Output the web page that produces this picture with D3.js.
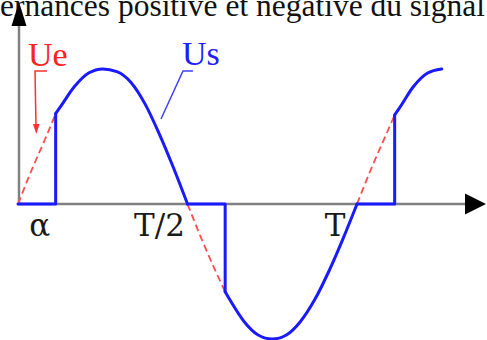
<!DOCTYPE html>
<html><head><meta charset="utf-8">
<script src="https://cdn.jsdelivr.net/npm/d3@7"></script>
<style>html,body{margin:0;padding:0;background:#fff;overflow:hidden}</style>
</head><body>
<svg id="chart" width="487" height="340"></svg>
<script>
// Input voltage Ue sampled over 1.25 periods (phase in degrees, normalised value)
const phaseDeg = [0, 15, 30, 40, 45, 60, 75, 90, 105, 120, 135, 150, 165, 180,
                  195, 210, 220, 225, 240, 255, 270, 285, 300, 315, 330, 345, 360,
                  375, 390, 400, 405, 420, 435, 450];
const ueValues = [0, 0.26, 0.5, 0.67, 0.72, 0.87, 0.97, 1.0, 0.98, 0.9, 0.74, 0.52, 0.27, 0,
                  -0.26, -0.5, -0.65, -0.71, -0.87, -0.97, -1.0, -0.97, -0.87, -0.71, -0.5, -0.26, 0,
                  0.26, 0.5, 0.66, 0.71, 0.87, 0.97, 1.0];
// Firing angle and the half-cycles it applies to
const firingAngleDeg = 40;
const halfCycleStarts = [0, 180, 360];
const halfCycleEnds = [180, 360, 450];
// Axis labels
const tickLabels = ["α", "T/2", "T"];
const tickPhaseDeg = [20, 180, 360];
const seriesNames = ["Ue", "Us"];
const titleText = "alternances positive et négative du signal";

const W = 487, H = 340;
const svg = d3.select("#chart");
const x = d3.scaleLinear().domain([0, 360]).range([18, 357]);
const y = d3.scaleLinear().domain([-1, 1]).range([339, 69]);

const labelDx = [3, -28, -22];
const serif = "'Liberation Serif', 'DejaVu Serif', serif";
const serifWide = "'DejaVu Serif', serif";

// Title line, running off the left edge; sized so its visible part spans the width
const title = svg.append("text")
  .attr("y", 16).attr("font-family", serif).attr("font-size", 30)
  .attr("fill", "#111");
title.text("alt");
let prefixW = title.node().getComputedTextLength();
title.text(titleText);
let fullW = title.node().getComputedTextLength();
const fs = 30 * 485 / (fullW - prefixW);
title.attr("font-size", fs).text("alt");
prefixW = title.node().getComputedTextLength();
title.text(titleText).attr("x", -prefixW);

const pts = phaseDeg.map((p, i) => ({ p, v: ueValues[i] }));
const valueAt = p => pts.find(d => d.p === p).v;

const curve = d3.line().x(d => x(d.p)).y(d => y(d.v)).curve(d3.curveMonotoneX);
const poly = d3.line().x(d => x(d.p)).y(d => y(d.v));

// Axes
const axisColor = "#808080";
svg.append("line").attr("x1", x(0)).attr("x2", 468).attr("y1", y(0)).attr("y2", y(0))
  .attr("stroke", axisColor).attr("stroke-width", 2.5);
svg.append("line").attr("x1", x(0) + 1).attr("x2", x(0) + 1).attr("y1", y(0)).attr("y2", 22)
  .attr("stroke", axisColor).attr("stroke-width", 2.5);
svg.append("path").attr("d", `M465,${y(0) - 10.5} L486,${y(0)} L465,${y(0) + 10.5} Z`).attr("fill", "#000");
svg.append("path").attr("d", `M${x(0) - 6.5},26 L${x(0) + 1},2 L${x(0) + 8.5},26 Z`).attr("fill", "#000");

// Ue: parts blocked by the thyristor (dashed)
halfCycleStarts.forEach(s => {
  const seg = pts.filter(d => d.p >= s && d.p <= s + firingAngleDeg);
  svg.append("path").attr("d", curve(seg)).attr("fill", "none")
    .attr("stroke", "#ff4d4d").attr("stroke-width", 1.8).attr("stroke-dasharray", "7,4");
});

// Us: zero until the firing angle, then follows Ue
const blue = "#1a1aff";
halfCycleStarts.forEach((s, i) => {
  const a = s + firingAngleDeg;
  const step = [{ p: s, v: 0 }, { p: a, v: 0 }, { p: a, v: valueAt(a) }];
  svg.append("path").attr("d", poly(step)).attr("fill", "none")
    .attr("stroke", blue).attr("stroke-width", 3).attr("stroke-linejoin", "round").attr("stroke-linecap", "round");
  const seg = pts.filter(d => d.p >= a && d.p <= halfCycleEnds[i]);
  svg.append("path").attr("d", curve(seg)).attr("fill", "none")
    .attr("stroke", blue).attr("stroke-width", 3).attr("stroke-linecap", "round");
});

// Tick labels
tickLabels.forEach((t, i) => {
  svg.append("text").attr("x", x(tickPhaseDeg[i]) + labelDx[i]).attr("y", 236)
    .attr("text-anchor", "middle").attr("font-family", serifWide).attr("font-size", 31)
    .attr("fill", "#1a1a1a").text(t);
});

// Series labels with leader lines
svg.append("text").attr("x", 28).attr("y", 66).attr("font-family", serif).attr("font-size", 34)
  .attr("fill", "#ff2020").text(seriesNames[0]);
svg.append("path").attr("d", "M47,71 L35,71 L36,126").attr("fill", "none")
  .attr("stroke", "#ff3030").attr("stroke-width", 1.5);
svg.append("path").attr("d", "M33,124 L39.5,124 L36.3,134 Z").attr("fill", "#ff3030");

svg.append("text").attr("x", 182).attr("y", 65).attr("font-family", serif).attr("font-size", 34)
  .attr("fill", "#2020ff").text(seriesNames[1]);
svg.append("path").attr("d", "M193,71 L183,71 L161,119").attr("fill", "none")
  .attr("stroke", "#4040ff").attr("stroke-width", 1.5);
</script>
</body></html>
